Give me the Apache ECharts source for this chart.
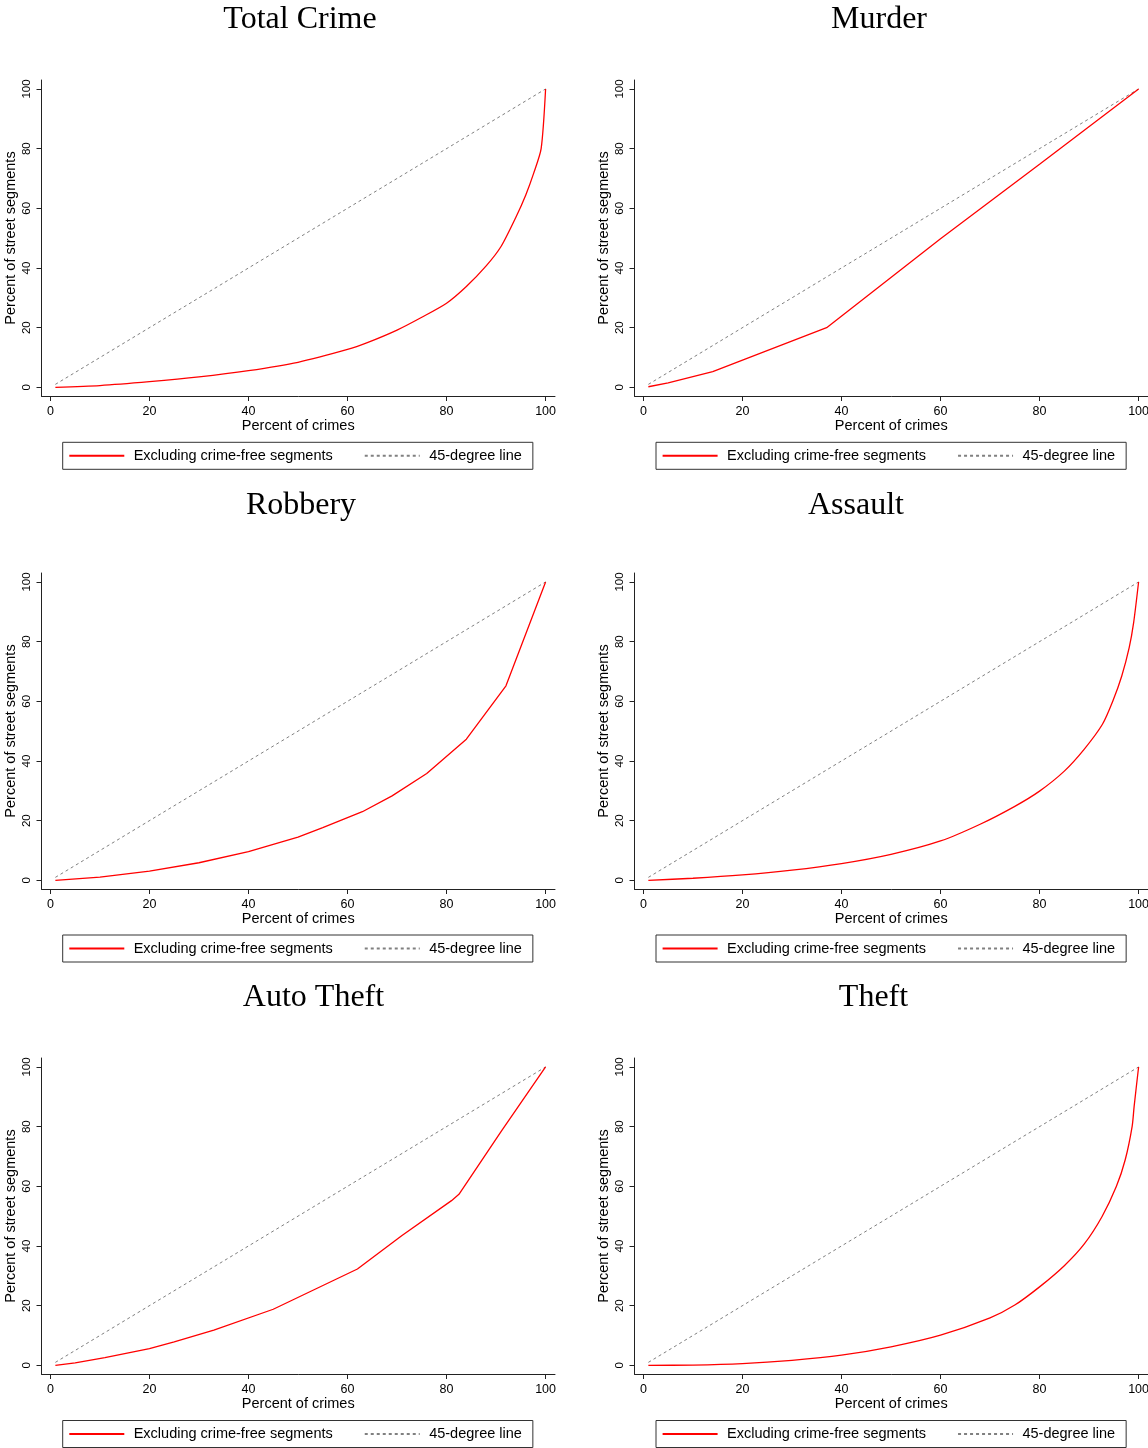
<!DOCTYPE html>
<html>
<head>
<meta charset="utf-8">
<script src="https://cdn.jsdelivr.net/npm/echarts@6/dist/echarts.min.js"></script>
<style>
    html, body { margin: 0; padding: 0; background: #fff; }
    #main { width: 1148px; height: 1448px; }
</style>
</head>
<body>
<div id="main"></div>
<script>
// panel titles, reading order
const panelTitles = ['Total Crime', 'Murder', 'Robbery', 'Assault', 'Auto Theft', 'Theft'];
const tickValues = [0, 20, 40, 60, 80, 100];

// 45-degree reference line
const diagX = [1, 100];
const diagY = [1, 100];

// cumulative curves (percent of crimes -> percent of street segments)
const totalCrimeX = [1, 10, 20, 30, 40, 50, 60, 64, 70, 75, 80, 84, 88, 91, 94, 96, 97.6, 99.1, 100];
const totalCrimeY = [0, 0.6, 1.9, 3.5, 5.6, 8.4, 12.7, 15.0, 19.2, 23.5, 28.2, 33.8, 40.7, 47.2, 57.0, 64.5, 71.8, 80.0, 100];

const murderX = [1, 5, 14, 37, 60, 80, 100];
const murderY = [0.2, 1.5, 5.3, 20.0, 49.8, 74.8, 100];

const robberyX = [1, 10, 20, 30, 40, 50, 55, 60, 63, 69, 76, 84, 92, 100];
const robberyY = [0, 1.1, 3.1, 5.9, 9.6, 14.5, 17.7, 21.0, 23.0, 28.3, 35.8, 47.3, 65.2, 100];

const assaultX = [1, 10, 20, 30, 40, 50, 60, 68, 75, 80, 85, 89, 92.7, 94.8, 96.6, 98.1, 99, 100];
const assaultY = [0, 0.7, 1.8, 3.4, 5.6, 8.7, 13.2, 18.8, 24.8, 29.9, 36.6, 43.9, 52.3, 60.1, 68.5, 78.0, 86.4, 100];

const autoTheftX = [1, 5, 11, 20, 25, 33, 45, 62, 71, 81, 82.5, 91, 100];
const autoTheftY = [0, 0.8, 2.6, 5.6, 7.9, 11.8, 18.8, 32.3, 43.5, 55.2, 57.3, 78.3, 100];

const theftX = [1, 10, 20, 30, 40, 50, 60, 70, 75, 80, 85, 89, 92.6, 95.5, 97.3, 98.7, 99.1, 100];
const theftY = [0, 0.1, 0.6, 1.7, 3.4, 6.2, 10.1, 15.9, 20.2, 26.3, 33.4, 40.6, 49.8, 59.9, 68.9, 80.1, 86.8, 100];

// smooth: the three dense Lorenz curves are drawn as smooth lines in the original
const curves = [
    [totalCrimeX, totalCrimeY, 0.25],
    [murderX, murderY, false],
    [robberyX, robberyY, false],
    [assaultX, assaultY, 0.25],
    [autoTheftX, autoTheftY, false],
    [theftX, theftY, 0.25],
];

const curveName = 'Excluding crime-free segments';
const diagName = '45-degree line';

// layout
const colLeft = [41.5, 634.5];
const gridWidth = 513.5;
const rowTop = [80, 573, 1058];
const gridHeight = 316;
const titlePos = [[300, 19.5], [879, 19.5], [301, 506], [856, 506], [313.5, 998], [873.5, 998]];
const legendLeft = [62.7, 656];
const legendTop = [442.3, 935, 1420.5];

const sans = 'Liberation Sans';
const axisColor = '#222';

function pairs(xs, ys) {
    return xs.map((x, i) => [x, ys[i]]);
}

const grids = [], xAxes = [], yAxes = [], series = [], legends = [], titles = [];

panelTitles.forEach((title, i) => {
    const col = i % 2;
    const row = Math.floor(i / 2);
    grids.push({
        left: colLeft[col],
        top: rowTop[row],
        width: gridWidth,
        height: gridHeight,
        outerBoundsMode: 'none',
    });
    xAxes.push({
        gridIndex: i,
        type: 'value',
        min: -1.8,
        max: 101.9,
        name: 'Percent of crimes',
        nameLocation: 'middle',
        nameGap: 22,
        nameTextStyle: { fontFamily: sans, fontSize: 14.5, color: '#000' },
        axisLine: { show: true, onZero: false, lineStyle: { color: axisColor, width: 1 } },
        axisTick: { show: true, length: 5, customValues: tickValues, lineStyle: { color: axisColor } },
        axisLabel: { customValues: tickValues, margin: 9, fontFamily: sans, fontSize: 12.5, color: '#000' },
        splitLine: { show: false },
    });
    yAxes.push({
        gridIndex: i,
        type: 'value',
        min: -2.9,
        max: 103,
        name: 'Percent of street segments',
        nameLocation: 'middle',
        nameGap: 23,
        nameTextStyle: { fontFamily: sans, fontSize: 14.5, color: '#000' },
        axisLine: { show: true, onZero: false, lineStyle: { color: axisColor, width: 1 } },
        axisTick: { show: true, length: 5, customValues: tickValues, lineStyle: { color: axisColor } },
        axisLabel: { customValues: tickValues, rotate: 90, margin: 9, fontFamily: sans, fontSize: 11.5, color: '#000' },
        splitLine: { show: false },
    });
    series.push({
        name: curveName,
        type: 'line',
        xAxisIndex: i,
        yAxisIndex: i,
        data: pairs(curves[i][0], curves[i][1]),
        smooth: curves[i][2],
        symbol: 'none',
        color: '#ff0000',
        lineStyle: { color: '#ff0000', width: 1.3 },
    });
    series.push({
        name: diagName,
        type: 'line',
        xAxisIndex: i,
        yAxisIndex: i,
        data: pairs(diagX, diagY),
        symbol: 'none',
        color: '#808080',
        lineStyle: { color: '#808080', width: 1, type: [3, 3] },
        z: 1,
    });
    legends.push({
        left: legendLeft[col],
        top: legendTop[row],
        orient: 'horizontal',
        data: [curveName, diagName],
        selectedMode: false,
        itemWidth: 55,
        itemHeight: 14,
        itemGap: 31,
        padding: [6, 11, 6, 5.6],
        borderColor: '#333',
        borderWidth: 1,
        itemStyle: { opacity: 0 },
        textStyle: { fontFamily: sans, fontSize: 14.5, color: '#000', padding: [0, 0, 0, 4.4] },
    });
    titles.push({
        type: 'text',
        x: titlePos[i][0],
        y: titlePos[i][1],
        silent: true,
        style: {
            text: title,
            font: '32px "Liberation Serif"',
            fill: '#000',
            textAlign: 'center',
            textVerticalAlign: 'middle',
        },
    });
});

const myChart = echarts.init(document.getElementById('main'));
myChart.setOption({
    animation: false,
    backgroundColor: '#fff',
    grid: grids,
    xAxis: xAxes,
    yAxis: yAxes,
    legend: legends,
    graphic: titles,
    series: series,
});
</script>
</body>
</html>
